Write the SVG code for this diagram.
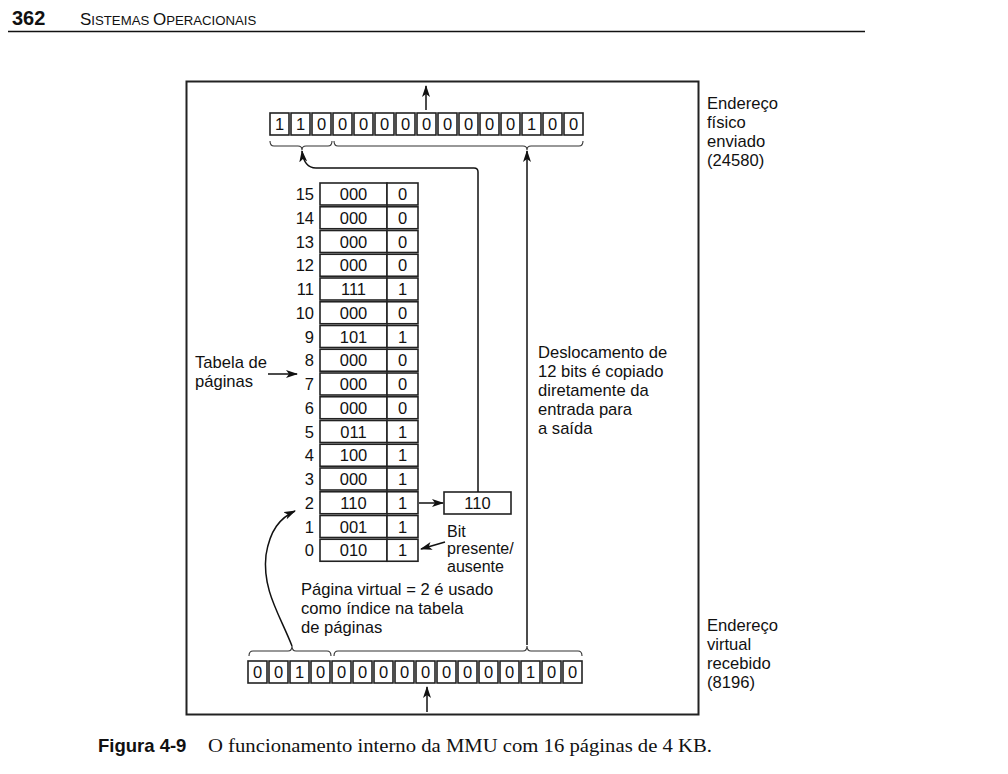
<svg xmlns="http://www.w3.org/2000/svg" width="1008" height="774" viewBox="0 0 1008 774">
<defs>
<marker id="ah" markerWidth="12" markerHeight="8" refX="11" refY="4" orient="auto" markerUnits="userSpaceOnUse">
<path d="M0,0 L12,4 L0,8 L3,4 Z" fill="#111"/>
</marker>
</defs>
<style>
text{font-family:"Liberation Sans",Arial,sans-serif;fill:#111}
.t{font-size:16.6px}
.s{font-size:16px}
.c{font-size:16.5px;text-anchor:middle}
.r{font-size:16.5px;text-anchor:end}
.cell{fill:#fff;stroke:#222;stroke-width:1.6}
.ln{fill:none;stroke:#111;stroke-width:1.5}
.br{fill:none;stroke:#333;stroke-width:1.1}
</style>
<rect width="1008" height="774" fill="#fff"/>
<g id="header">
<text x="12" y="25" style="font-size:20px;font-weight:bold">362</text>
<text x="80" y="25"><tspan style="font-size:17px">S</tspan><tspan style="font-size:13.2px">ISTEMAS </tspan><tspan style="font-size:17px">O</tspan><tspan style="font-size:13.2px">PERACIONAIS</tspan></text>
<line x1="8" y1="31.5" x2="865" y2="31.5" stroke="#111" stroke-width="1.5"/>
</g>
<g id="frame"><rect x="186.5" y="81.5" width="512" height="633" fill="none" stroke="#222" stroke-width="2"/></g>

<g id="physical-register">
<rect class="cell" x="270" y="113" width="19" height="22"/><text class="c" x="279.5" y="130">1</text>
<rect class="cell" x="291" y="113" width="19" height="22"/><text class="c" x="300.5" y="130">1</text>
<rect class="cell" x="312" y="113" width="19" height="22"/><text class="c" x="321.5" y="130">0</text>
<rect class="cell" x="333" y="113" width="19" height="22"/><text class="c" x="342.5" y="130">0</text>
<rect class="cell" x="354" y="113" width="19" height="22"/><text class="c" x="363.5" y="130">0</text>
<rect class="cell" x="375" y="113" width="19" height="22"/><text class="c" x="384.5" y="130">0</text>
<rect class="cell" x="396" y="113" width="19" height="22"/><text class="c" x="405.5" y="130">0</text>
<rect class="cell" x="417" y="113" width="19" height="22"/><text class="c" x="426.5" y="130">0</text>
<rect class="cell" x="438" y="113" width="19" height="22"/><text class="c" x="447.5" y="130">0</text>
<rect class="cell" x="459" y="113" width="19" height="22"/><text class="c" x="468.5" y="130">0</text>
<rect class="cell" x="480" y="113" width="19" height="22"/><text class="c" x="489.5" y="130">0</text>
<rect class="cell" x="501" y="113" width="19" height="22"/><text class="c" x="510.5" y="130">0</text>
<rect class="cell" x="522" y="113" width="19" height="22"/><text class="c" x="531.5" y="130">1</text>
<rect class="cell" x="543" y="113" width="19" height="22"/><text class="c" x="552.5" y="130">0</text>
<rect class="cell" x="564" y="113" width="19" height="22"/><text class="c" x="573.5" y="130">0</text>
<path class="br" d="M270,141 Q270,146 274,146 L298,146 Q302,146 302,150 Q302,146 306,146 L328,146 Q332,146 332,141"/>
<path class="br" d="M334,141 Q334,146 338,146 L523,146 Q527,146 527,150 Q527,146 531,146 L579,146 Q583,146 583,141"/>
</g>
<g id="physical-label">
<text class="t" x="707" y="109">Endereço</text>
<text class="t" x="707" y="128">físico</text>
<text class="t" x="707" y="147">enviado</text>
<text class="t" x="707" y="166">(24580)</text>
</g>

<g id="virtual-register">
<rect class="cell" x="248" y="661" width="19" height="22"/><text class="c" x="257.5" y="678">0</text>
<rect class="cell" x="269" y="661" width="19" height="22"/><text class="c" x="278.5" y="678">0</text>
<rect class="cell" x="290" y="661" width="19" height="22"/><text class="c" x="299.5" y="678">1</text>
<rect class="cell" x="311" y="661" width="19" height="22"/><text class="c" x="320.5" y="678">0</text>
<rect class="cell" x="332" y="661" width="19" height="22"/><text class="c" x="341.5" y="678">0</text>
<rect class="cell" x="353" y="661" width="19" height="22"/><text class="c" x="362.5" y="678">0</text>
<rect class="cell" x="374" y="661" width="19" height="22"/><text class="c" x="383.5" y="678">0</text>
<rect class="cell" x="395" y="661" width="19" height="22"/><text class="c" x="404.5" y="678">0</text>
<rect class="cell" x="416" y="661" width="19" height="22"/><text class="c" x="425.5" y="678">0</text>
<rect class="cell" x="437" y="661" width="19" height="22"/><text class="c" x="446.5" y="678">0</text>
<rect class="cell" x="458" y="661" width="19" height="22"/><text class="c" x="467.5" y="678">0</text>
<rect class="cell" x="479" y="661" width="19" height="22"/><text class="c" x="488.5" y="678">0</text>
<rect class="cell" x="500" y="661" width="19" height="22"/><text class="c" x="509.5" y="678">0</text>
<rect class="cell" x="521" y="661" width="19" height="22"/><text class="c" x="530.5" y="678">1</text>
<rect class="cell" x="542" y="661" width="19" height="22"/><text class="c" x="551.5" y="678">0</text>
<rect class="cell" x="563" y="661" width="19" height="22"/><text class="c" x="572.5" y="678">0</text>
<path class="br" d="M249,656 Q249,651 253,651 L288,651 Q292,651 292,646 Q292,651 296,651 L327,651 Q331,651 331,656"/>
<path class="br" d="M334,656 Q334,651 338,651 L523,651 Q527,651 527,646 Q527,651 531,651 L578,651 Q582,651 582,656"/>
</g>
<g id="virtual-label">
<text class="t" x="707" y="631">Endereço</text>
<text class="t" x="707" y="650">virtual</text>
<text class="t" x="707" y="669">recebido</text>
<text class="t" x="707" y="688">(8196)</text>
</g>

<g id="page-table">
<rect class="cell" x="320" y="183" width="67" height="22"/><rect class="cell" x="387" y="183" width="31" height="22"/><text class="r" x="314" y="200">15</text><text class="c" x="353.5" y="200">000</text><text class="c" x="402.5" y="200">0</text>
<rect class="cell" x="320" y="206.75" width="67" height="22"/><rect class="cell" x="387" y="206.75" width="31" height="22"/><text class="r" x="314" y="223.75">14</text><text class="c" x="353.5" y="223.75">000</text><text class="c" x="402.5" y="223.75">0</text>
<rect class="cell" x="320" y="230.5" width="67" height="22"/><rect class="cell" x="387" y="230.5" width="31" height="22"/><text class="r" x="314" y="247.5">13</text><text class="c" x="353.5" y="247.5">000</text><text class="c" x="402.5" y="247.5">0</text>
<rect class="cell" x="320" y="254.25" width="67" height="22"/><rect class="cell" x="387" y="254.25" width="31" height="22"/><text class="r" x="314" y="271.25">12</text><text class="c" x="353.5" y="271.25">000</text><text class="c" x="402.5" y="271.25">0</text>
<rect class="cell" x="320" y="278" width="67" height="22"/><rect class="cell" x="387" y="278" width="31" height="22"/><text class="r" x="314" y="295">11</text><text class="c" x="353.5" y="295">111</text><text class="c" x="402.5" y="295">1</text>
<rect class="cell" x="320" y="301.75" width="67" height="22"/><rect class="cell" x="387" y="301.75" width="31" height="22"/><text class="r" x="314" y="318.75">10</text><text class="c" x="353.5" y="318.75">000</text><text class="c" x="402.5" y="318.75">0</text>
<rect class="cell" x="320" y="325.5" width="67" height="22"/><rect class="cell" x="387" y="325.5" width="31" height="22"/><text class="r" x="314" y="342.5">9</text><text class="c" x="353.5" y="342.5">101</text><text class="c" x="402.5" y="342.5">1</text>
<rect class="cell" x="320" y="349.25" width="67" height="22"/><rect class="cell" x="387" y="349.25" width="31" height="22"/><text class="r" x="314" y="366.25">8</text><text class="c" x="353.5" y="366.25">000</text><text class="c" x="402.5" y="366.25">0</text>
<rect class="cell" x="320" y="373" width="67" height="22"/><rect class="cell" x="387" y="373" width="31" height="22"/><text class="r" x="314" y="390">7</text><text class="c" x="353.5" y="390">000</text><text class="c" x="402.5" y="390">0</text>
<rect class="cell" x="320" y="396.75" width="67" height="22"/><rect class="cell" x="387" y="396.75" width="31" height="22"/><text class="r" x="314" y="413.75">6</text><text class="c" x="353.5" y="413.75">000</text><text class="c" x="402.5" y="413.75">0</text>
<rect class="cell" x="320" y="420.5" width="67" height="22"/><rect class="cell" x="387" y="420.5" width="31" height="22"/><text class="r" x="314" y="437.5">5</text><text class="c" x="353.5" y="437.5">011</text><text class="c" x="402.5" y="437.5">1</text>
<rect class="cell" x="320" y="444.25" width="67" height="22"/><rect class="cell" x="387" y="444.25" width="31" height="22"/><text class="r" x="314" y="461.25">4</text><text class="c" x="353.5" y="461.25">100</text><text class="c" x="402.5" y="461.25">1</text>
<rect class="cell" x="320" y="468" width="67" height="22"/><rect class="cell" x="387" y="468" width="31" height="22"/><text class="r" x="314" y="485">3</text><text class="c" x="353.5" y="485">000</text><text class="c" x="402.5" y="485">1</text>
<rect class="cell" x="320" y="491.75" width="67" height="22"/><rect class="cell" x="387" y="491.75" width="31" height="22"/><text class="r" x="314" y="508.75">2</text><text class="c" x="353.5" y="508.75">110</text><text class="c" x="402.5" y="508.75">1</text>
<rect class="cell" x="320" y="515.5" width="67" height="22"/><rect class="cell" x="387" y="515.5" width="31" height="22"/><text class="r" x="314" y="532.5">1</text><text class="c" x="353.5" y="532.5">001</text><text class="c" x="402.5" y="532.5">1</text>
<rect class="cell" x="320" y="539.25" width="67" height="22"/><rect class="cell" x="387" y="539.25" width="31" height="22"/><text class="r" x="314" y="556.25">0</text><text class="c" x="353.5" y="556.25">010</text><text class="c" x="402.5" y="556.25">1</text>
</g>

<g id="frame-box">
<rect class="cell" x="444" y="492" width="67" height="22"/><text class="c" x="477.5" y="509">110</text>
</g>

<g id="labels">
<text class="t" x="195" y="368">Tabela de</text>
<text class="t" x="195" y="387">páginas</text>
<text class="s" x="447" y="537">Bit</text>
<text class="s" x="447" y="554">presente/</text>
<text class="s" x="447" y="572">ausente</text>
<text class="t" x="538" y="358">Deslocamento de</text>
<text class="t" x="538" y="377">12 bits é copiado</text>
<text class="t" x="538" y="396">diretamente da</text>
<text class="t" x="538" y="415">entrada para</text>
<text class="t" x="538" y="434">a saída</text>
<text class="t" x="301" y="595">Página virtual = 2 é usado</text>
<text class="t" x="301" y="614">como índice na tabela</text>
<text class="t" x="301" y="633">de páginas</text>
</g>

<g id="connectors">
<line class="ln" x1="427" y1="712" x2="427" y2="687" marker-end="url(#ah)"/>
<line class="ln" x1="426" y1="110" x2="426" y2="86" marker-end="url(#ah)"/>
<line class="ln" x1="527" y1="645" x2="527" y2="151" marker-end="url(#ah)"/>
<path class="ln" d="M478,492 L478,172 Q478,168 474,168 L316,168 Q304,168 302,151" marker-end="url(#ah)"/>
<line class="ln" x1="419" y1="503" x2="443" y2="503" marker-end="url(#ah)"/>
<line class="ln" x1="445" y1="542" x2="421" y2="549" marker-end="url(#ah)"/>
<line class="ln" x1="268" y1="374" x2="297" y2="374" marker-end="url(#ah)"/>
<path class="ln" d="M292,646 C280,615 262,590 266,555 C270,530 280,518 295,511" marker-end="url(#ah)"/>
</g>

<g id="caption">
<text x="98" y="752" style="font-size:18.5px;font-weight:bold">Figura 4-9</text>
<text x="208" y="752" textLength="504" lengthAdjust="spacingAndGlyphs" style="font-family:'Liberation Serif','Times New Roman',serif;font-size:19.5px">O funcionamento interno da MMU com 16 páginas de 4 KB.</text>
</g>
</svg>
